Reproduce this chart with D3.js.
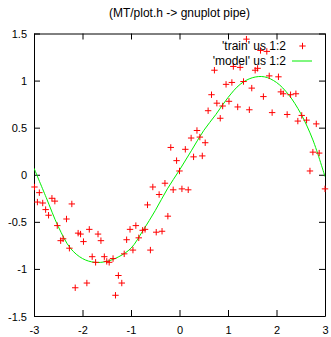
<!DOCTYPE html>
<html>
<head>
<meta charset="utf-8">
<script src="https://cdn.jsdelivr.net/npm/d3@7"></script>
<style>
  body { margin: 0; background: #fff; }
  svg { display: block; font-family: "Liberation Sans", Arial, sans-serif; }
  .axis text { font-size: 11px; fill: #000; }
  .axis path, .axis line { stroke: #000; }
</style>
</head>
<body>
<script>
// training points
const trainX = [-2.99, -2.89, -2.93, -2.82, -2.76, -2.70, -2.63, -2.57, -2.22, -2.52,
  -2.33, -2.45, -2.40, -2.27, -2.09, -2.04, -1.98, -1.86, -1.68, -1.62,
  -1.80, -1.73, -1.55, -1.50, -1.45, -1.37, -2.15, -1.91, -1.26, -1.19,
  -1.32, -1.14, -0.96, -1.09, -1.02, -0.90, -0.84, -0.76, -0.71, -0.60,
  -0.66, -0.55, -0.42, -0.30, -0.48, -0.36, -0.24, -0.13, 0.00, 0.05,
  0.18, -0.06, -0.18, 0.12, 0.29, 0.47, 0.24, 0.42, 0.53, 0.36,
  0.59, 0.84, 0.66, 0.77, 0.89, 1.02, 0.72, 1.20, 1.44, 0.96,
  1.08, 1.32, 1.49, 1.11, 1.25, 1.56, 1.61, 1.38, 1.67, 1.80,
  1.85, 2.04, 1.73, 2.09, 2.14, 2.29, 2.40, 1.91, 2.22, 2.52,
  2.44, 2.62, 2.82, 2.75, 2.88, 2.69, 3.00]
const trainY = [-0.13, -0.19, -0.29, -0.30, -0.37, -0.43, -0.25, -0.28, -0.31, -0.54,
  -0.47, -0.70, -0.68, -0.78, -0.62, -0.63, -0.71, -0.58, -0.63, -0.70,
  -0.87, -0.93, -0.87, -0.92, -0.93, -0.89, -1.20, -1.15, -1.07, -1.15,
  -1.28, -0.84, -0.80, -0.69, -0.58, -0.54, -0.67, -0.59, -0.58, -0.80,
  -0.32, -0.13, -0.21, -0.09, -0.61, -0.60, -0.44, -0.16, 0.04, -0.15,
  -0.16, 0.15, 0.29, 0.27, 0.19, 0.20, 0.39, 0.40, 0.34, 0.47,
  0.68, 0.60, 0.85, 0.76, 0.73, 0.78, 1.11, 0.72, 0.69, 0.96,
  0.98, 0.99, 0.92, 1.15, 1.14, 1.11, 1.13, 1.44, 1.32, 1.31,
  1.05, 1.04, 0.83, 0.88, 0.86, 0.85, 0.86, 0.66, 0.64, 0.63,
  0.57, 0.58, 0.54, 0.24, 0.23, 0.04, -0.15]

// model curve samples
const modelX = [-3.0, -2.75, -2.5, -2.25, -2.0, -1.75, -1.5, -1.25, -1.0, -0.75, -0.5, -0.25,
  0.0, 0.25, 0.5, 0.75, 1.0, 1.25, 1.5, 1.75, 2.0, 2.25, 2.5, 2.75, 3.0]
const modelY = [0.07, -0.24, -0.55, -0.78, -0.89, -0.93, -0.92, -0.87, -0.78, -0.59, -0.38, -0.15,
  0.05, 0.26, 0.47, 0.64, 0.82, 0.96, 1.03, 1.04, 0.98, 0.85, 0.65, 0.37, -0.02]

const xTicks = [-3, -2, -1, 0, 1, 2, 3]
const yTicks = [-1.5, -1, -0.5, 0, 0.5, 1, 1.5]

const title = "(MT/plot.h -> gnuplot pipe)"
const legendTrain = "'train' us 1:2"
const legendModel = "'model' us 1:2"

const width = 331, height = 337
const m = { left: 34, right: 325, top: 33.5, bottom: 316 }

const svg = d3.select("body").append("svg")
    .attr("width", width)
    .attr("height", height)

const x = d3.scaleLinear().domain([-3, 3]).range([m.left, m.right])
const y = d3.scaleLinear().domain([-1.5, 1.5]).range([m.bottom, m.top])

svg.append("text")
    .attr("x", (m.left + m.right) / 2)
    .attr("y", 13)
    .attr("text-anchor", "middle")
    .attr("dominant-baseline", "central")
    .style("font-size", "12px")
    .attr("fill", "#000")
    .text(title)

// axes, ticks point inwards and are mirrored
svg.append("g")
    .attr("class", "axis")
    .attr("transform", `translate(0,${m.bottom})`)
    .call(d3.axisBottom(x).tickValues(xTicks).tickSize(-6).tickSizeOuter(0).tickPadding(14)
        .tickFormat(d => String(d)))

svg.append("g")
    .attr("class", "axis")
    .attr("transform", `translate(0,${m.top})`)
    .call(d3.axisTop(x).tickValues(xTicks).tickSize(-6).tickSizeOuter(0).tickFormat(""))

svg.append("g")
    .attr("class", "axis")
    .attr("transform", `translate(${m.left},0)`)
    .call(d3.axisLeft(y).tickValues(yTicks).tickSize(-6).tickSizeOuter(0).tickPadding(7)
        .tickFormat(d => String(d)))

svg.append("g")
    .attr("class", "axis")
    .attr("transform", `translate(${m.right},0)`)
    .call(d3.axisRight(y).tickValues(yTicks).tickSize(-6).tickSizeOuter(0).tickFormat(""))

svg.selectAll(".axis .tick text")
    .attr("dy", null)
    .attr("dominant-baseline", "central")

svg.append("clipPath")
    .attr("id", "clip")
    .append("rect")
    .attr("x", m.left).attr("y", m.top)
    .attr("width", m.right - m.left).attr("height", m.bottom - m.top)

const plot = svg.append("g").attr("clip-path", "url(#clip)")

// model line
const line = d3.line()
    .x(d => x(d[0]))
    .y(d => y(d[1]))
    .curve(d3.curveCatmullRom)

plot.append("path")
    .datum(modelX.map((v, i) => [v, modelY[i]]))
    .attr("d", line)
    .attr("fill", "none")
    .attr("stroke", "#00ee00")
    .attr("stroke-width", 1)

// training points as plus signs
const arm = 3.2
const plusPath = (cx, cy) => `M${cx - arm},${cy}H${cx + arm}M${cx},${cy - arm}V${cy + arm}`

svg.append("g")
    .selectAll("path")
    .data(trainX.map((v, i) => [v, trainY[i]]))
    .enter()
    .append("path")
        .attr("d", d => plusPath(x(d[0]), y(d[1])))
        .attr("stroke", "#ff0000")
        .attr("stroke-width", 1)
        .attr("fill", "none")

// legend
const legend = svg.append("g").style("font-size", "12px")

legend.append("text")
    .attr("x", 286).attr("y", 46)
    .attr("text-anchor", "end")
    .attr("dominant-baseline", "central")
    .text(legendTrain)

legend.append("path")
    .attr("d", plusPath(302.5, 46))
    .attr("stroke", "#ff0000")
    .attr("fill", "none")

legend.append("text")
    .attr("x", 286).attr("y", 61)
    .attr("text-anchor", "end")
    .attr("dominant-baseline", "central")
    .text(legendModel)

legend.append("line")
    .attr("x1", 292).attr("x2", 312)
    .attr("y1", 61).attr("y2", 61)
    .attr("stroke", "#00ee00")
</script>
</body>
</html>
